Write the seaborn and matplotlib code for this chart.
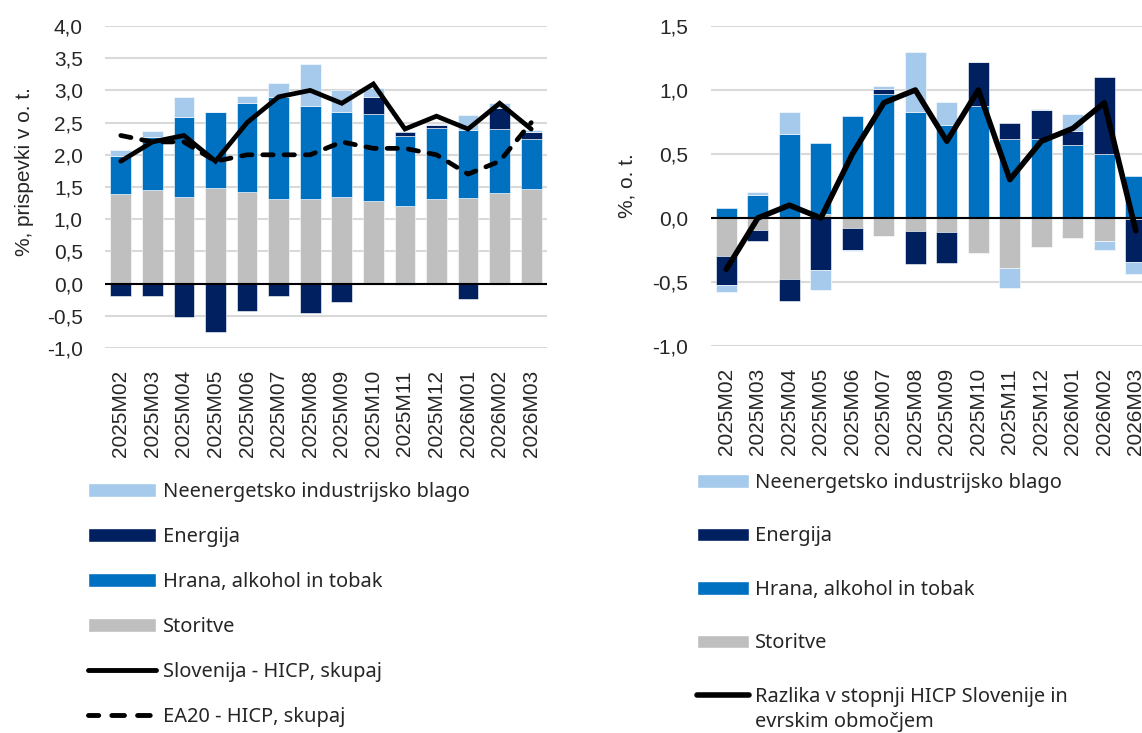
import numpy as np
import pandas as pd
import matplotlib
matplotlib.use("Agg")
import matplotlib.pyplot as plt
import seaborn as sns
from matplotlib.patches import Patch
from matplotlib.lines import Line2D

months = ["2025M02", "2025M03", "2025M04", "2025M05", "2025M06", "2025M07", "2025M08",
          "2025M09", "2025M10", "2025M11", "2025M12", "2026M01", "2026M02", "2026M03"]

# left panel: contributions to Slovenian HICP inflation (p.p.)
l_services = [1.39, 1.46, 1.35, 1.49, 1.43, 1.32, 1.32, 1.35, 1.28, 1.21, 1.32, 1.33, 1.40, 1.47]
l_food = [0.59, 0.81, 1.24, 1.18, 1.37, 1.57, 1.44, 1.31, 1.36, 1.08, 1.10, 1.06, 1.00, 0.77]
l_energy = [-0.20, -0.19, -0.52, -0.75, -0.42, -0.19, -0.46, -0.28, 0.26, 0.07, 0.04, -0.24, 0.32, 0.11]
l_goods = [0.09, 0.10, 0.30, 0.00, 0.12, 0.22, 0.65, 0.35, 0.14, -0.02, 0.02, 0.23, 0.09, 0.04]
si_hicp = [1.9, 2.2, 2.3, 1.9, 2.5, 2.9, 3.0, 2.8, 3.1, 2.4, 2.6, 2.4, 2.8, 2.4]
ea_hicp = [2.3, 2.2, 2.2, 1.9, 2.0, 2.0, 2.0, 2.2, 2.1, 2.1, 2.0, 1.7, 1.9, 2.5]

# right panel: contributions to the SI - EA inflation gap (p.p.)
r_services = [-0.30, -0.09, -0.48, 0.035, -0.08, -0.14, -0.10, -0.11, -0.27, -0.39, -0.23, -0.16, -0.18, -0.01]
r_food = [0.075, 0.18, 0.66, 0.55, 0.80, 0.97, 0.83, 0.73, 0.875, 0.62, 0.62, 0.57, 0.50, 0.33]
r_energy = [-0.22, -0.09, -0.17, -0.41, -0.17, 0.04, -0.26, -0.24, 0.345, 0.125, 0.22, 0.11, 0.60, -0.33]
r_goods = [-0.06, 0.02, 0.17, -0.15, -0.01, 0.02, 0.47, 0.18, 0.00, -0.155, 0.013, 0.13, -0.07, -0.10]
gap = [-0.4, 0.0, 0.1, 0.0, 0.5, 0.9, 1.0, 0.6, 1.0, 0.3, 0.6, 0.7, 0.9, -0.1]

series_names = ["Storitve", "Hrana, alkohol in tobak", "Energija", "Neenergetsko industrijsko blago"]
colors = {"Storitve": "#BFBFBF", "Hrana, alkohol in tobak": "#0070C0",
          "Energija": "#002060", "Neenergetsko industrijsko blago": "#A6CAEC"}

sns.set_style("white")
plt.rcParams["font.family"] = ["Liberation Sans", "DejaVu Sans"]
plt.rcParams["axes.unicode_minus"] = False

fig = plt.figure(figsize=(11.42, 7.33), dpi=100)
ax1 = fig.add_axes([105 / 1142, 1 - 348 / 733, 442 / 1142, 322 / 733])
ax2 = fig.add_axes([710.6 / 1142, 1 - 346 / 733, 441 / 1142, 320 / 733])


def stacked(ax, data):
    # excel-style stacking: positives upward from 0, negatives downward from 0
    pos = np.zeros(len(months))
    neg = np.zeros(len(months))
    for name in series_names:
        vals = np.array(data[name], dtype=float)
        base = np.where(vals >= 0, pos, neg)
        sns.barplot(x=months, y=vals, bottom=base, color=colors[name], saturation=1,
                    width=0.66, edgecolor="white", linewidth=0.4, ax=ax, zorder=2)
        pos = pos + np.clip(vals, 0, None)
        neg = neg + np.clip(vals, None, 0)


def style(ax, lo, hi, ylabel, lab_x, lab_y):
    ax.set_ylim(lo, hi)
    ax.set_xlim(-0.5, 13.5)
    ticks = np.arange(lo, hi + 0.01, 0.5)
    ax.set_yticks(ticks)
    ax.set_yticklabels([f"{t:.1f}".replace(".", ",") for t in ticks], fontsize=15)
    ax.set_xticks(range(len(months)))
    ax.set_xticklabels(months, rotation=90, fontsize=15)
    ax.tick_params(axis="both", length=0, pad=16)
    ax.grid(axis="y", color="#D9D9D9", linewidth=1.5, zorder=0)
    ax.axhline(0, color="black", linewidth=1.5, zorder=3)
    for s in ax.spines.values():
        s.set_visible(False)
    ax.set_xlabel("")
    ax.set_ylabel("")
    fig.text(lab_x, lab_y, ylabel, rotation=90, fontsize=15, ha="center", va="center")


stacked(ax1, dict(zip(series_names, [l_services, l_food, l_energy, l_goods])))
x = np.arange(len(months))
sns.lineplot(x=x, y=si_hicp, color="black", linewidth=3.4, ax=ax1, zorder=5,
             solid_capstyle="round", solid_joinstyle="miter")
sns.lineplot(x=x, y=ea_hicp, color="black", linewidth=3.4, ax=ax1, zorder=5,
             dashes=False, linestyle=(0, (2.2, 2.3)), dash_capstyle="round")
style(ax1, -1.0, 4.0, "%, prispevki v o. t.", 25 / 1142, 1 - 172 / 733)

stacked(ax2, dict(zip(series_names, [r_services, r_food, r_energy, r_goods])))
sns.lineplot(x=x, y=gap, color="black", linewidth=4, ax=ax2, zorder=5,
             solid_capstyle="round")
style(ax2, -1.0, 1.5, "%, o. t.", 627 / 1142, 1 - 186 / 733)

leg_font = {"family": ["Noto Sans", "DejaVu Sans"], "size": 14.4}
order = ["Neenergetsko industrijsko blago", "Energija", "Hrana, alkohol in tobak", "Storitve"]
h1 = [Patch(facecolor=colors[n], label=n) for n in order]
h1 += [Line2D([], [], color="black", lw=3.5, solid_capstyle="round", label="Slovenija - HICP, skupaj"),
       Line2D([], [], color="black", lw=3.5, linestyle=(0.5, (2.6, 2.7)), dash_capstyle="round",
              label="EA20 - HICP, skupaj")]
fig.legend(handles=h1, loc="upper left", bbox_to_anchor=(88 / 1142, 1 - 482 / 733),
           frameon=False, prop=leg_font, handlelength=3.4, handleheight=0.65,
           handletextpad=0.35, labelspacing=1.25, borderpad=0, borderaxespad=0)

h2 = [Patch(facecolor=colors[n], label=n) for n in order]
h2 += [Line2D([], [], color="black", lw=4, solid_capstyle="round",
              label="Razlika v stopnji HICP Slovenije in")]
fig.legend(handles=h2, loc="upper left", bbox_to_anchor=(697 / 1142, 1 - 473 / 733),
           frameon=False, prop=leg_font, handlelength=2.6, handleheight=0.65,
           handletextpad=0.3, labelspacing=1.675, borderpad=0, borderaxespad=0)
fig.text(755 / 1142, 1 - 722 / 733, "evrskim območjem", fontdict=leg_font, va="center")

fig.savefig("out.png", dpi=100)
